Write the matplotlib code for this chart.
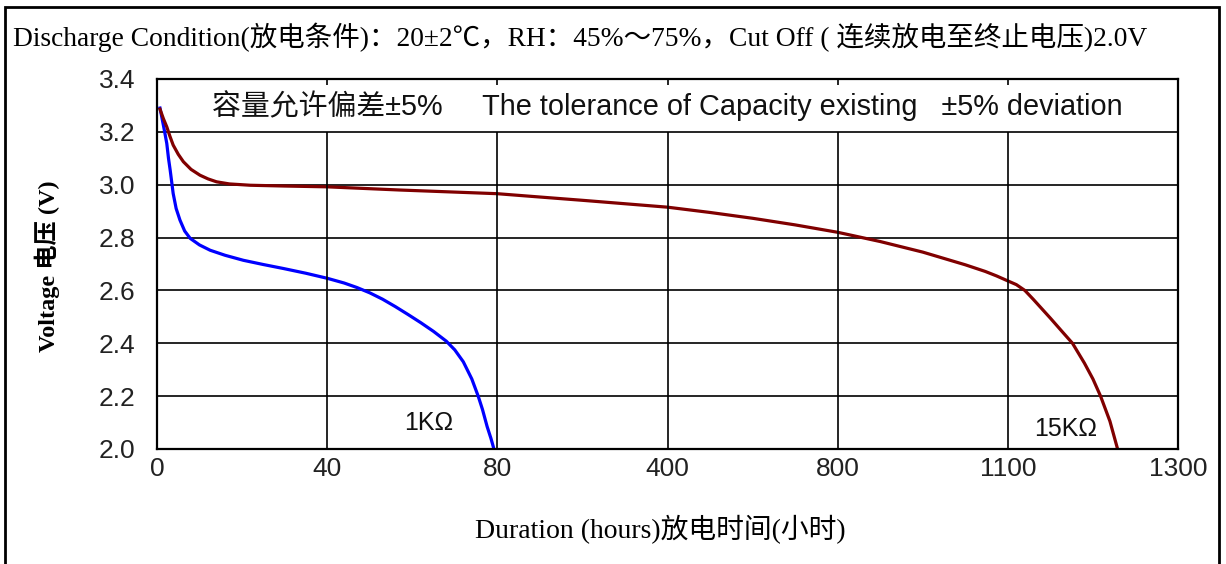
import matplotlib
matplotlib.use("Agg")
import matplotlib.pyplot as plt
import numpy as np
from matplotlib.patches import Rectangle

# x axis is not linear: each tick gets an equal slot
tick_hours = [0, 40, 80, 400, 800, 1100, 1300]
tick_labels = ["0", "40", "80", "400", "800", "1100", "1300"]
slots = np.arange(len(tick_hours))

# 1K ohm load
h_1k = [0.7, 1.2, 1.8, 2.3, 2.7, 3.1, 3.8, 4.5, 5.4, 6.5, 7.8, 10, 12.5, 16,
        20.3, 25, 29.7, 35, 40, 44, 47, 50, 53, 56, 59, 62, 65, 68, 70, 72,
        74, 75.5, 76.5, 77.6, 78.5, 79.2]
v_1k = [3.29, 3.25, 3.2, 3.156, 3.10, 3.055, 2.967, 2.91, 2.866, 2.825,
        2.797, 2.772, 2.752, 2.733, 2.714, 2.698, 2.683, 2.665, 2.646, 2.628,
        2.611, 2.591, 2.567, 2.539, 2.509, 2.478, 2.445, 2.408, 2.375, 2.33,
        2.265, 2.2, 2.15, 2.085, 2.04, 2.0]

# 15K ohm load
h_15k = [0.7, 1.5, 2.3, 3, 3.8, 5, 6.2, 8, 10.1, 12, 14, 17, 21.9, 30, 40, 57,
         80, 150, 240, 320, 400, 500, 600, 700, 800, 875, 950, 1025, 1060,
         1080, 1100, 1110, 1120, 1130, 1150, 1165, 1176, 1190, 1200, 1209,
         1220, 1229]
v_15k = [3.286, 3.25, 3.219, 3.185, 3.15, 3.115, 3.087, 3.058, 3.036, 3.022,
         3.011, 3.003, 2.998, 2.995, 2.992, 2.98, 2.966, 2.955, 2.941, 2.928,
         2.915, 2.895, 2.873, 2.848, 2.82, 2.785, 2.745, 2.697, 2.672, 2.655,
         2.636, 2.622, 2.600, 2.566, 2.495, 2.44, 2.4, 2.325, 2.265, 2.2,
         2.105, 2.0]

title = "Discharge Condition(放电条件)：20±2℃，RH：45%～75%，Cut Off ( 连续放电至终止电压)2.0V"
header = "容量允许偏差±5%     The tolerance of Capacity existing   ±5% deviation"

serif = ["Liberation Serif", "Noto Sans CJK SC", "DejaVu Sans"]
sans = ["Liberation Sans", "Noto Sans CJK SC", "DejaVu Sans"]


def fwd(x):
    return np.interp(x, tick_hours, slots)


def inv(x):
    return np.interp(x, slots, tick_hours)


W, H = 1226, 564
fig = plt.figure(figsize=(W / 100, H / 100), dpi=100)
ax = fig.add_axes([157 / W, 1 - 449 / H, (1178 - 157) / W, (449 - 79) / H])
ax.set_xscale("function", functions=(fwd, inv))

ax.plot(h_1k, v_1k, color="#0000ff", lw=2.3, solid_joinstyle="round")
ax.plot(h_15k, v_15k, color="#800000", lw=2.3, solid_joinstyle="round")

ax.set_xlim(0, 1300)
ax.set_ylim(2.0, 3.4)
ax.set_xticks(tick_hours)
ax.set_xticklabels(tick_labels)
ax.set_yticks(np.arange(2.0, 3.41, 0.2))
ax.set_yticklabels(["%.1f" % v for v in np.arange(2.0, 3.41, 0.2)])

ax.yaxis.grid(True, color="black", lw=1.2)
ax.vlines(tick_hours[1:-1], 2.0, 3.2, colors="black", lw=1.2)

ax.tick_params(axis="x", bottom=False, top=True, direction="in", length=4,
               width=1.2, labelsize=19, pad=6, labelcolor="#222222")
ax.tick_params(axis="y", left=False, labelsize=19, pad=12, labelcolor="#222222")
for lab in ax.get_xticklabels() + ax.get_yticklabels():
    lab.set_fontfamily(sans)
for sp in ax.spines.values():
    sp.set_linewidth(1.6)

ax.text(0.5, 0.9286, header, transform=ax.transAxes, ha="center", va="center",
        fontsize=20.8, family=sans, color="#111111")
ax.text(58, 2.10, "1KΩ", ha="left", va="center", fontsize=18, family=sans,
        color="#111111")
ax.text(1131, 2.075, "15KΩ", ha="left", va="center", fontsize=18, family=sans,
        color="#111111")

fig.text(13 / W, 1 - 37 / H, title, ha="left", va="center", fontsize=19.8,
         family=serif)
fig.text(660 / W, 1 - 530 / H, "Duration (hours)放电时间(小时)", ha="center",
         va="center", fontsize=20, family=serif)
fig.text(47 / W, 1 - 266 / H, "Voltage 电压 (V)", ha="center", va="center",
         rotation=90, fontsize=17.5, fontweight="bold", family=serif)

fig.add_artist(Rectangle((5 / W, -0.1), (1219 - 5) / W, 1.1 - 7 / H,
                         transform=fig.transFigure, fill=False, lw=2,
                         edgecolor="black", clip_on=False))

fig.savefig("out.png", dpi=100)
